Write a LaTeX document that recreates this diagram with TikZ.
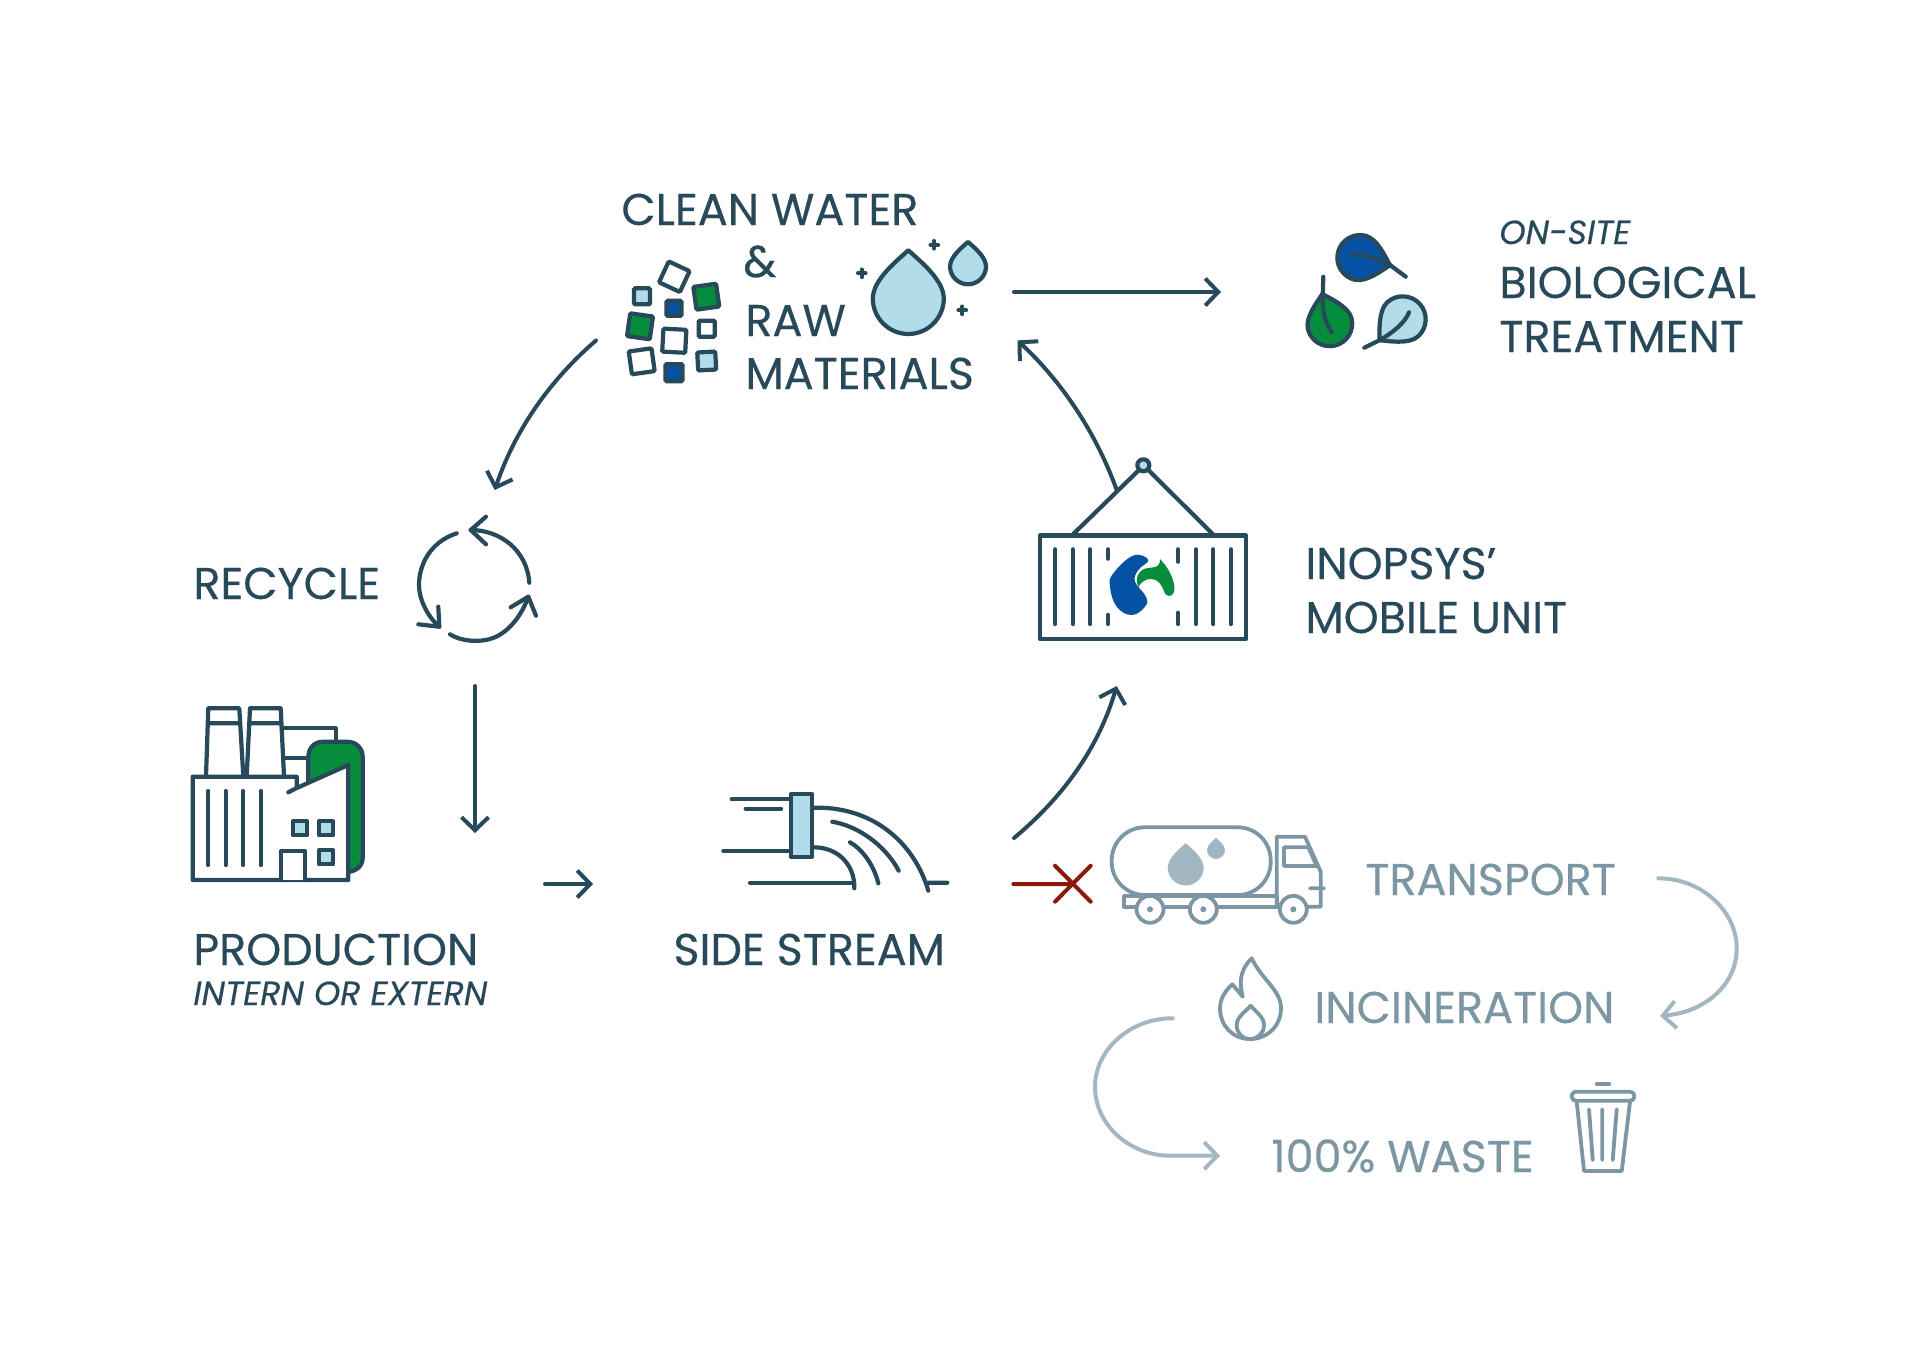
\documentclass[tikz,border=0pt]{standalone}
\usepackage{fontspec}
\setmainfont{Poppins}[RawFeature={embolden=0.35}]
\usetikzlibrary{arrows.meta}

\definecolor{inkdark}{HTML}{28495A}
\definecolor{inkgrey}{HTML}{7D96A3}
\definecolor{inkpale}{HTML}{A3B7C3}
\definecolor{skyfill}{HTML}{B1DDEB}
\definecolor{leafgreen}{HTML}{058C3C}
\definecolor{deepblue}{HTML}{0552A5}
\definecolor{stopred}{HTML}{8B1A0B}

\newcommand{\droppath}[3]{
  (#1,{#2-1.36*#3}) .. controls ({#1+0.25*#3},{#2-1.12*#3}) and ({#1+#3},{#2-0.55*#3}) .. ({#1+#3},#2)
  .. controls ({#1+#3},{#2+0.55*#3}) and ({#1+0.55*#3},{#2+#3}) .. (#1,{#2+#3})
  .. controls ({#1-0.55*#3},{#2+#3}) and ({#1-#3},{#2+0.55*#3}) .. ({#1-#3},#2)
  .. controls ({#1-#3},{#2-0.55*#3}) and ({#1-0.25*#3},{#2-1.12*#3}) .. cycle
}

\begin{document}
\begin{tikzpicture}[
  x=0.5pt, y=-0.5pt,
  txt/.style={anchor=base west, inner sep=0pt, text=inkdark, font=\fontsize{22.25}{26}\selectfont},
  txtsmall/.style={anchor=base west, inner sep=0pt, text=inkdark, font=\fontsize{16.7}{20}\selectfont\itshape},
  txtgrey/.style={txt, text=inkgrey},
  icon/.style={draw=inkdark, line width=2.1pt, line cap=round, line join=round},
  icongrey/.style={draw=inkgrey, line width=1.9pt, line cap=round, line join=round},
  sq/.style={rectangle, draw=inkdark, line width=2.1pt, rounded corners=0.6pt, inner sep=0pt},
  flow/.style={draw=inkdark, line width=2pt, line cap=round, ->, >={Straight Barb[length=6.5pt,width=13.5pt]}},
  flowpale/.style={flow, draw=inkpale}
]
  \useasboundingbox (0,0) rectangle (1920,1355);

  \node[txt] (cleanwater) at (621,225) {CLEAN WATER};
  \node[txt] (amp) at (743,277) {\&};
  \node[txt] (raw) at (745,336) {RAW};
  \node[txt] (materials) at (745,389) {MATERIALS};
  \node[txtsmall] (onsite) at (1499,244) {ON-SITE};
  \node[txt] (biological) at (1499,298) {BIOLOGICAL};
  \node[txt] (treatment) at (1499,352) {TREATMENT};
  \node[txt] (recycle) at (193,599) {RECYCLE};
  \node[txt] (inopsys) at (1305,579) {INOPSYS’};
  \node[txt] (mobile) at (1305,633) {MOBILE UNIT};
  \node[txt] (production) at (193,965) {PRODUCTION};
  \node[txtsmall] (intern) at (193,1005) {INTERN OR EXTERN};
  \node[txt] (sidestream) at (673,965) {SIDE STREAM};
  \node[txtgrey] (transport) at (1365,895) {TRANSPORT};
  \node[txtgrey] (incineration) at (1314,1023) {INCINERATION};
  \node[txtgrey] (waste) at (1271,1172) {100\% WASTE};

  \node[sq, minimum size=11.5pt, rotate=-25] (sqa) at (674.3,276.7) {};
  \node[sq, minimum size=8pt, fill=skyfill] (sqb) at (642,296.3) {};
  \node[sq, minimum size=11.5pt, fill=leafgreen, rotate=8] (sqc) at (706.3,296.7) {};
  \node[sq, minimum size=7.5pt, fill=deepblue] (sqd) at (674,308.3) {};
  \node[sq, minimum size=11.5pt, fill=leafgreen, rotate=-8] (sqe) at (640,326.3) {};
  \node[sq, minimum size=8pt] (sqf) at (706.7,328.7) {};
  \node[sq, minimum size=11.5pt, rotate=-3] (sqg) at (674.3,340.7) {};
  \node[sq, minimum size=11.5pt, rotate=8] (sqh) at (641.7,361.3) {};
  \node[sq, minimum size=9pt, fill=skyfill, rotate=3] (sqi) at (706.7,361) {};
  \node[sq, minimum size=8.5pt, fill=deepblue] (sqj) at (674,372.7) {};

  \draw[icon, fill=skyfill] \droppath{908.3}{298.5}{35.5};
  \draw[icon, fill=skyfill] \droppath{968}{266.3}{18};
  \draw[icon] (858,273.3) -- (865.5,273.3) (861.7,269.5) -- (861.7,277)
    (930.5,244.7) -- (938,244.7) (934.3,241) -- (934.3,248.5)
    (958.5,310.3) -- (966,310.3) (962.3,306.5) -- (962.3,314);

  \begin{scope}[shift={(1360,257.7)}, rotate=-104]
    \draw[icon, fill=deepblue] \droppath{0}{0}{22.7};
  \end{scope}
  \draw[icon] (1352.7,255) .. controls (1365,254) and (1380,260) .. (1390,265) -- (1405.7,276.7);
  \begin{scope}[shift={(1329.7,323.7)}, rotate=14]
    \draw[icon, fill=leafgreen] \droppath{0}{0}{22.5};
  \end{scope}
  \draw[icon] (1323.3,276.7) -- (1322.7,295) .. controls (1322,310) and (1325,323) .. (1331.7,332.3);
  \begin{scope}[shift={(1402.7,319.3)}, rotate=132]
    \draw[icon, fill=skyfill] \droppath{0}{0}{23};
  \end{scope}
  \draw[icon] (1364.3,347.7) -- (1380,340) .. controls (1392,333) and (1405,323) .. (1409,312.3);

  \draw[icon] (1073.3,534) -- (1139,470) (1212.7,534) -- (1148.3,470);
  \draw[icon, fill=skyfill] (1143.3,465.3) circle[radius=6];
  \draw[icon, fill=white] (1040,535.5) rectangle (1246,639);
  \draw[icon] (1055.3,549.3) -- (1055.3,624) (1072.7,549.3) -- (1072.7,624) (1090.3,549.3) -- (1090.3,624)
    (1195.7,549.3) -- (1195.7,624) (1213.3,549.3) -- (1213.3,624) (1230.7,549.3) -- (1230.7,624)
    (1108,549.3) -- (1108,558.7) (1108,615) -- (1108,624)
    (1178,549.3) -- (1178,561.7) (1178,612.7) -- (1178,624);
  \fill[deepblue] plot[smooth cycle, tension=0.7] coordinates {(1148.3,560) (1133.3,555.5) (1113.3,573.3) (1110,586.7) (1116.7,606.7) (1131.7,615) (1145,606.7) (1146,596.7) (1135,581.7) (1138.3,570)};
  \fill[leafgreen] (1160,559) .. controls (1171,570) and (1176,585) .. (1174,592) .. controls (1172,597) and (1166,598) .. (1164,591)
    .. controls (1161,584) and (1158,579) .. (1151,579) .. controls (1145,579) and (1141,582) .. (1138.5,587)
    .. controls (1134,578) and (1139,569) .. (1148,568) .. controls (1155,567) and (1160,568) .. cycle;

  \draw[icon] (206,776) -- (208.3,708.3) -- (239.3,708.3) -- (243.3,776) (209,723.3) -- (240,723.3);
  \draw[icon] (246.7,776) -- (250,708.3) -- (280.7,708.3) -- (284,776) (250,723.3) -- (281.5,723.3);
  \draw[icon] (281.7,728.3) -- (335.7,728.3) -- (335.7,741.7) (283.3,758.3) -- (308.3,758.3);
  \draw[icon, fill=leafgreen] (308.3,785) -- (308.3,758) .. controls (308.3,748) and (314,741.7) .. (323.3,741.7)
    -- (347,741.7) .. controls (356,741.7) and (362.7,748) .. (362.7,757) -- (362.7,858)
    .. controls (362.7,866) and (356,872) .. (346,872) -- cycle;
  \draw[icon, fill=white] (192.7,776.7) -- (296.7,776.7) -- (296.7,788) -- (348.3,765) -- (348.3,880) -- (192.7,880) -- cycle;
  \draw[icon] (296.7,788) -- (288.3,792.3);
  \draw[icon] (208.3,791) -- (208.3,865) (225.7,791) -- (225.7,865) (243.3,791) -- (243.3,865) (260.7,791) -- (260.7,865);
  \draw[icon, fill=white] (281,880) -- (281,851) -- (305,851) -- (305,880);
  \draw[icon, fill=skyfill] (293,821.3) rectangle (307,835.3);
  \draw[icon, fill=skyfill] (319,821.3) rectangle (333,835.3);
  \draw[icon, fill=skyfill] (319,850.3) rectangle (333,864.3);

  \draw[icon] (456.7,533.3) .. controls (430,542) and (419,565) .. (419,585) .. controls (419,600) and (428,617) .. (439.3,626.7);
  \draw[icon] (438.3,606.7) -- (439.3,626.7) -- (418.3,624.3);
  \draw[icon] (450,634.3) .. controls (462,642) and (480,642) .. (490,639) .. controls (508,634) and (522,615) .. (528.3,596.7);
  \draw[icon] (510.7,607.3) -- (528.3,596.7) -- (536,615.7);
  \draw[icon] (529.3,582.7) .. controls (527,550) and (500,530) .. (470.7,530);
  \draw[icon] (486,516.7) -- (470.7,530) -- (486,544.3);

  \draw[icon] (731.7,799.3) -- (791,799.3) (745.7,808.7) -- (781,808.7) (723.3,850.7) -- (791,850.7) (750,882.7) -- (854,882.7);
  \draw[icon] (813.3,807.7) .. controls (875,806) and (915,845) .. (928.3,890.7) (928.3,882.7) -- (947.3,882.7);
  \draw[icon] (813.3,847.3) .. controls (838,847) and (855,865) .. (854.3,888.3);
  \draw[icon] (832.3,821.7) .. controls (858,826) and (885,845) .. (898.7,870.7);
  \draw[icon] (850,842.3) .. controls (862,849) and (874,865) .. (878.3,883.3);
  \draw[icon, fill=skyfill] (791,794) rectangle (812.3,856.7);

  \draw[icongrey, fill=white] (1124,896) rectangle (1276.7,906.7);
  \draw[icongrey, rounded corners=33*0.5pt] (1111.7,827.3) rectangle (1270.7,895);
  \draw[icongrey] (1276.7,906.7) -- (1276.7,836.7) -- (1305,836.7) -- (1320.7,871.7) -- (1320.7,906.7) -- (1308.3,906.7);
  \draw[icongrey] (1284,847.3) -- (1308.3,847.3) -- (1316.7,866) -- (1284,866) -- cycle (1310,888.3) -- (1324,888.3);
  \draw[icongrey, fill=white] (1150,909.3) circle[radius=13.5] (1203.3,909.3) circle[radius=13.5] (1293.3,909.3) circle[radius=13.5];
  \fill[inkgrey] (1150,909.3) circle[radius=3] (1203.3,909.3) circle[radius=3] (1293.3,909.3) circle[radius=3];
  \fill[inkpale] \droppath{1185.7}{867.5}{18};
  \fill[inkpale] \droppath{1216}{850}{9};

  \draw[icongrey] (1251.7,958.3) .. controls (1262,980) and (1281,990) .. (1281,1008.3) .. controls (1281,1026) and (1267,1039) .. (1250,1039)
    .. controls (1233,1039) and (1220,1026) .. (1220,1008.3) .. controls (1220,998) and (1226,990) .. (1232.3,984.3) -- (1242.7,996.7)
    .. controls (1240,985) and (1238,972) .. (1251.7,958.3) -- cycle;
  \draw[icongrey] (1250.7,1005.7) .. controls (1256,1012) and (1264,1017) .. (1264,1025) .. controls (1264,1033) and (1258,1039) .. (1250,1039)
    .. controls (1242,1039) and (1236.7,1033) .. (1236.7,1025) .. controls (1236.7,1017) and (1245,1012) .. (1250.7,1005.7) -- cycle;

  \draw[icongrey] (1596.7,1084.3) -- (1609.3,1084.3);
  \draw[icongrey, rounded corners=2pt] (1571.7,1091.7) rectangle (1634.3,1100.7);
  \draw[icongrey] (1576.7,1101.7) -- (1584,1171) -- (1621.7,1171) -- (1630,1101.7);
  \draw[icongrey] (1589,1109.3) -- (1592.7,1160) (1602.3,1109.3) -- (1602.3,1160) (1616.7,1109.3) -- (1612.7,1160);

  \coordinate (cleanout) at (1014,292);
  \coordinate (bioin) at (1221,292);
  \coordinate (cleanleft) at (596,340.5);
  \coordinate (recyclein) at (494.7,490);
  \coordinate (recycleout) at (475,686);
  \coordinate (prodin) at (475,833);
  \coordinate (prodout) at (545,884);
  \coordinate (sidein) at (593,884);
  \coordinate (sideout) at (1014,838);
  \coordinate (unitin) at (1116.7,686);
  \coordinate (unitout) at (1116.7,490);
  \coordinate (cleanin) at (1017.5,340.4);
  \coordinate (redstart) at (1013.3,884);
  \coordinate (redend) at (1071.7,884);
  \coordinate (transout) at (1658.3,878.3);
  \coordinate (incin) at (1660,1016);
  \coordinate (incout) at (1172.7,1018.3);
  \coordinate (wastein) at (1220,1155.7);

  \draw[flow] (cleanout) -- (bioin);
  \draw[flow] (cleanleft) .. controls (550,380) and (515,430) .. (recyclein);
  \draw[flow] (recycleout) -- (prodin);
  \draw[flow] (prodout) -- (sidein);
  \draw[flow] (sideout) .. controls (1050,808) and (1095,760) .. (unitin);
  \draw[flow] (unitout) .. controls (1095,430) and (1060,380) .. (cleanin);
  \draw[flowpale] (transout) .. controls (1700,878) and (1736.7,910) .. (1736.7,948.3) .. controls (1736.7,985) and (1705,1012) .. (incin);
  \draw[flowpale] (incout) .. controls (1130,1018) and (1095,1050) .. (1095,1086.7) .. controls (1095,1125) and (1130,1155.7) .. (1170,1155.7) -- (wastein);
  \draw[stopred, line width=2pt, line cap=round] (redstart) -- (redend)
    (1055,865.7) -- (1090.7,901.7) (1090.7,865.7) -- (1055,901.7);
\end{tikzpicture}
\end{document}
